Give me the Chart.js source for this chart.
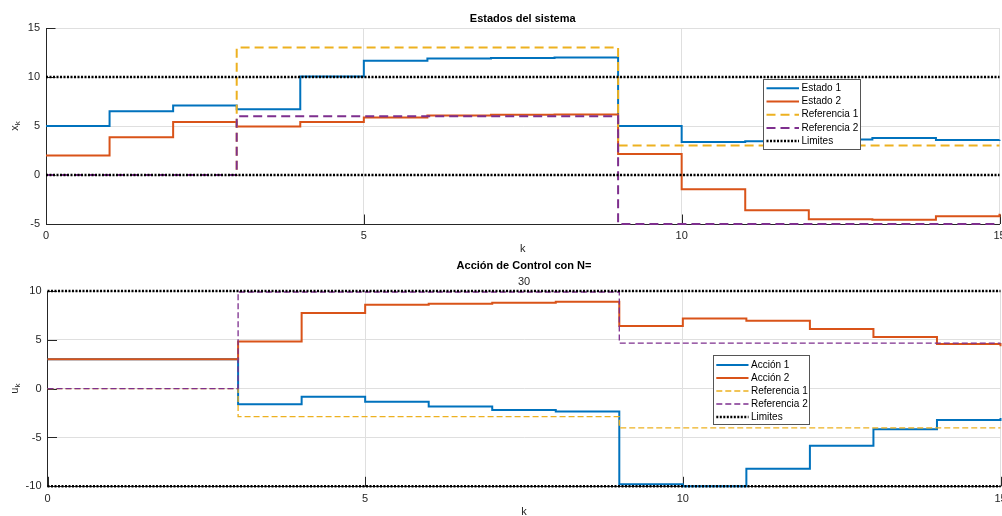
<!DOCTYPE html>
<html>
<head>
<meta charset="utf-8">
<script src="https://cdn.jsdelivr.net/npm/chart.js@4.4.1/dist/chart.umd.min.js"></script>
<style>
  html, body { margin: 0; padding: 0; background: #fff; overflow: hidden; width: 1002px; height: 516px; }
  canvas { position: absolute; left: 0; }
  #estados { top: 0; }
  #control { top: 256px; }
</style>
</head>
<body>
<canvas id="estados" width="1006" height="256"></canvas>
<canvas id="control" width="1007" height="263"></canvas>
<script>
// ── Datos ──
const k = [0, 1, 2, 3, 4, 5, 6, 7, 8, 9, 10, 11, 12, 13, 14, 15];

// Estados del sistema
const estado1 = [5.0, 6.5, 7.1, 6.7, 10.05, 11.65, 11.9, 11.95, 12.0, 5.0, 3.37, 3.44, 3.62, 3.78, 3.57, 3.6];
const estado2 = [2.0, 3.85, 5.4, 4.95, 5.4, 5.88, 6.06, 6.14, 6.18, 2.14, -1.46, -3.6, -4.52, -4.56, -4.2, -3.95];
const refEstado1 = [0, 0, 0, 13, 13, 13, 13, 13, 13, 3, 3, 3, 3, 3, 3, 3];
const refEstado2 = [0, 0, 0, 6, 6, 6, 6, 6, 6, -5, -5, -5, -5, -5, -5, -5];
const limEstado = [0, 10];

// Acción de control
const accion1 = [3, 3, 3, -1.6, -0.82, -1.33, -1.84, -2.18, -2.35, -9.79, -10, -8.2, -5.86, -4.17, -3.22, -3.0];
const accion2 = [3, 3, 3, 4.84, 7.74, 8.59, 8.69, 8.79, 8.9, 6.41, 7.19, 6.95, 6.1, 5.3, 4.57, 4.33];
const refAccion1 = [0, 0, 0, -2.86, -2.86, -2.86, -2.86, -2.86, -2.86, -4.02, -4.02, -4.02, -4.02, -4.02, -4.02, -4.02];
const refAccion2 = [0, 0, 0, 9.9, 9.9, 9.9, 9.9, 9.9, 9.9, 4.67, 4.67, 4.67, 4.67, 4.67, 4.67, 4.67];
const limAccion = [-10, 10];

const xTicks = [0, 5, 10, 15];
const horizonte = 30;

const AZUL = '#0072BD', NARANJA = '#D95319', AMARILLO = '#EDB120', MORADO = '#7E2F8E';
const FUENTE = '"Liberation Sans", Arial, Helvetica, sans-serif';
const TEXTO = '#262626';
const REJILLA = '#dfdfdf';

const escalon = ys => k.map((x, i) => ({ x, y: ys[i] }));
const horizontal = v => [{ x: k[0], y: v }, { x: k[k.length - 1], y: v }];

// ── Plugins: etiqueta Y con subíndice, marcas hacia dentro y leyenda ──
const ejeY = {
  id: 'ejeY',
  afterDraw(chart, args, opts) {
    const { ctx, chartArea: a } = chart;
    ctx.save();
    ctx.translate(opts.x, (a.top + a.bottom) / 2);
    ctx.rotate(-Math.PI / 2);
    ctx.fillStyle = TEXTO;
    ctx.textBaseline = 'middle';
    ctx.textAlign = 'left';
    ctx.font = '11px ' + FUENTE;
    const w1 = ctx.measureText(opts.base).width;
    ctx.font = '8px ' + FUENTE;
    const w2 = ctx.measureText(opts.sub).width;
    const x0 = -(w1 + w2) / 2;
    ctx.font = '11px ' + FUENTE;
    ctx.fillText(opts.base, x0, 0);
    ctx.font = '8px ' + FUENTE;
    ctx.fillText(opts.sub, x0 + w1, 3);
    ctx.restore();
  }
};

const marcas = {
  id: 'marcas',
  beforeDatasetsDraw(chart, args, opts) {
    const { ctx, chartArea: a, scales: { x, y } } = chart;
    ctx.save();
    ctx.strokeStyle = TEXTO;
    ctx.lineWidth = 1;
    ctx.beginPath();
    x.ticks.forEach(t => {
      const px = Math.round(x.getPixelForValue(t.value)) + 0.5;
      ctx.moveTo(px, a.bottom);
      ctx.lineTo(px, a.bottom - opts.len);
    });
    y.ticks.forEach(t => {
      const py = Math.round(y.getPixelForValue(t.value)) + 0.5;
      ctx.moveTo(a.left, py);
      ctx.lineTo(a.left + opts.len, py);
    });
    ctx.stroke();
    ctx.restore();
  }
};

const leyenda = {
  id: 'leyenda',
  afterDatasetsDraw(chart, args, opts) {
    const { ctx } = chart;
    ctx.save();
    ctx.fillStyle = '#fff';
    ctx.fillRect(opts.x, opts.y, opts.w, opts.h);
    ctx.strokeStyle = '#555';
    ctx.lineWidth = 1;
    ctx.strokeRect(Math.round(opts.x) + 0.5, Math.round(opts.y) + 0.5, Math.round(opts.w), Math.round(opts.h));
    ctx.font = '10px ' + FUENTE;
    ctx.textBaseline = 'middle';
    ctx.textAlign = 'left';
    opts.items.forEach((idx, i) => {
      const ds = chart.data.datasets[idx];
      const cy = opts.y + opts.primera + i * opts.fila;
      ctx.save();
      ctx.strokeStyle = ds.borderColor;
      ctx.lineWidth = ds.borderWidth;
      ctx.setLineDash(ds.borderDash || []);
      ctx.beginPath();
      ctx.moveTo(opts.x + opts.linea[0], cy);
      ctx.lineTo(opts.x + opts.linea[1], cy);
      ctx.stroke();
      ctx.restore();
      ctx.fillStyle = '#000';
      ctx.fillText(ds.label, opts.x + opts.texto, cy);
    });
    ctx.restore();
  }
};

function serie(label, data, color, width, dash, order) {
  return {
    label, data, borderColor: color, backgroundColor: color,
    borderWidth: width, borderDash: dash, stepped: true,
    pointRadius: 0, fill: false, clip: false, order,
    borderCapStyle: 'butt', borderJoinStyle: 'miter'
  };
}

function escalas(yMin, yMax, anchoY, altoX) {
  return {
    x: {
      type: 'linear', min: k[0], max: k[k.length - 1],
      afterBuildTicks: s => { s.ticks = xTicks.map(v => ({ value: v })); },
      afterFit: s => { s.height = altoX; s.paddingLeft = 0; s.paddingRight = 0; },
      grid: { color: REJILLA, drawTicks: false },
      border: { display: true, color: TEXTO, width: 1 },
      ticks: { color: TEXTO, font: { family: FUENTE, size: 11 }, padding: 5.6, maxRotation: 0 },
      title: { display: true, text: 'k', color: TEXTO, font: { family: FUENTE, size: 11 }, padding: 0 }
    },
    y: {
      min: yMin, max: yMax,
      afterFit: s => { s.width = anchoY; s.paddingTop = 0; s.paddingBottom = 0; },
      grid: { color: REJILLA, drawTicks: false },
      border: { display: true, color: TEXTO, width: 1 },
      ticks: { stepSize: 5, color: TEXTO, font: { family: FUENTE, size: 11 }, padding: 6 }
    }
  };
}

// ── Estados del sistema ──
new Chart(document.getElementById('estados'), {
  type: 'line',
  data: {
    datasets: [
      serie('Estado 1', escalon(estado1), AZUL, 2, [], 6),
      serie('Estado 2', escalon(estado2), NARANJA, 2, [], 5),
      serie('Referencia 1', escalon(refEstado1), AMARILLO, 2, [9, 5], 4),
      serie('Referencia 2', escalon(refEstado2), MORADO, 2, [9, 5], 3),
      serie('Limites', horizontal(limEstado[0]), '#000', 2.5, [2, 1.5], 2),
      serie('Limites', horizontal(limEstado[1]), '#000', 2.5, [2, 1.5], 1)
    ]
  },
  options: {
    responsive: false, animation: false, events: [],
    layout: { padding: { left: 0, right: 6.5, top: 0, bottom: 0 } },
    scales: escalas(-5, 15, 46, 32),
    plugins: {
      legend: { display: false }, tooltip: { enabled: false },
      title: {
        display: true, fullSize: false, text: 'Estados del sistema', color: '#000',
        font: { family: FUENTE, size: 11, weight: 'bold' }, padding: { top: 12.4, bottom: 2.4 }
      },
      ejeY: { x: 15, base: 'x', sub: 'k' },
      marcas: { len: 9.5 },
      leyenda: { x: 763, y: 79, w: 97, h: 70, primera: 9.3, fila: 13.2, linea: [3.5, 36], texto: 38.5, items: [0, 1, 2, 3, 4] }
    }
  },
  plugins: [marcas, ejeY, leyenda]
});

// ── Acción de control ──
new Chart(document.getElementById('control'), {
  type: 'line',
  data: {
    datasets: [
      serie('Acción 1', escalon(accion1), AZUL, 2, [], 6),
      serie('Acción 2', escalon(accion2), NARANJA, 2, [], 5),
      serie('Referencia 1', escalon(refAccion1), AMARILLO, 1.3, [6, 3], 4),
      serie('Referencia 2', escalon(refAccion2), MORADO, 1.3, [6, 3], 3),
      serie('Limites', horizontal(limAccion[0]), '#000', 2.5, [2, 1.5], 2),
      serie('Limites', horizontal(limAccion[1]), '#000', 2.5, [2, 1.5], 1)
    ]
  },
  options: {
    responsive: false, animation: false, events: [],
    layout: { padding: { left: 0, right: 6.5, top: 0, bottom: 0 } },
    scales: escalas(-10, 10, 47.5, 32.7),
    plugins: {
      legend: { display: false }, tooltip: { enabled: false },
      title: {
        display: true, fullSize: false, text: 'Acción de Control con N=', color: '#000',
        font: { family: FUENTE, size: 11, weight: 'bold' }, padding: { top: 3.1, bottom: 3.1 }
      },
      subtitle: {
        display: true, fullSize: false, text: String(horizonte), color: TEXTO,
        font: { family: FUENTE, size: 11 }, padding: { top: 0, bottom: 2.4 }
      },
      ejeY: { x: 15, base: 'u', sub: 'k' },
      marcas: { len: 9.5 },
      leyenda: { x: 713, y: 99.3, w: 96, h: 69.4, primera: 9.7, fila: 13, linea: [3.3, 35.5], texto: 38, items: [0, 1, 2, 3, 4] }
    }
  },
  plugins: [marcas, ejeY, leyenda]
});
</script>
</body>
</html>
